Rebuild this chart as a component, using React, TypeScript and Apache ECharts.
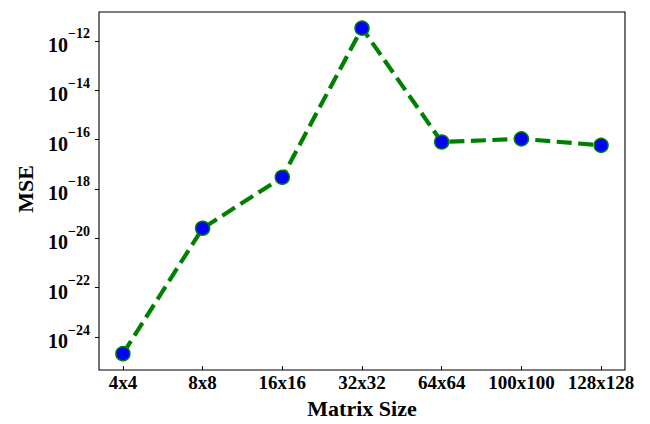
import React, { useEffect, useRef } from "react";
import * as echarts from "echarts";

const categories = ["4x4", "8x8", "16x16", "32x32", "64x64", "100x100", "128x128"];
const mseValues = [3.1e-25, 3.2e-20, 3.5e-18, 3.2e-12, 9.0e-17, 1.2e-16, 6.6e-17];
const yTickExponents = { min: -24, max: -12, step: 2 };
const yExtentExponents = { min: -25.16, max: -10.85 };
const xExtent = { min: -0.3, max: 6.3 };

const W = 650;
const H = 424;
const FRAME = { left: 99, top: 12, right: 625, bottom: 370 };
const FONT = "'Liberation Serif', 'Times New Roman', serif";

export default function App() {
  const ref = useRef<HTMLDivElement>(null);
  useEffect(() => {
    if (!ref.current) return;
    const chart = echarts.init(ref.current, null, { renderer: "svg" });

    const fw = FRAME.right - FRAME.left;
    const fh = FRAME.bottom - FRAME.top;
    const xOf = (v: number) => FRAME.left + ((v - xExtent.min) / (xExtent.max - xExtent.min)) * fw;
    const yOf = (e: number) =>
      FRAME.top + ((yExtentExponents.max - e) / (yExtentExponents.max - yExtentExponents.min)) * fh;

    const g2Left = xOf(0);
    const g2Right = xOf(categories.length - 1);
    const g2Top = yOf(yTickExponents.max);
    const g2Bottom = yOf(yTickExponents.min);

    const option: any = {
      animation: false,
      backgroundColor: "#fff",
      grid: [
        {
          left: FRAME.left,
          top: FRAME.top,
          width: fw,
          height: fh,
          show: true,
          borderColor: "#000",
          borderWidth: 1.1,
          backgroundColor: "transparent",
          containLabel: false,
        },
        {
          left: g2Left,
          top: g2Top,
          width: g2Right - g2Left,
          height: g2Bottom - g2Top,
          show: false,
          containLabel: false,
        },
      ],
      xAxis: [
        {
          gridIndex: 0,
          type: "value",
          min: xExtent.min,
          max: xExtent.max,
          axisLine: { show: false },
          axisTick: { show: false },
          axisLabel: { show: false },
          splitLine: { show: false },
        },
        {
          gridIndex: 1,
          type: "category",
          data: categories,
          boundaryGap: false,
          offset: FRAME.bottom - g2Bottom,
          axisLine: { show: false, onZero: false },
          axisTick: { show: true, length: 4, lineStyle: { color: "#000", width: 1 } },
          axisLabel: {
            color: "#000",
            fontFamily: FONT,
            fontWeight: "bold",
            fontSize: 19,
            margin: 7,
            interval: 0,
          },
          splitLine: { show: false },
          name: "Matrix Size",
          nameLocation: "middle",
          nameGap: 29,
          nameTextStyle: { color: "#000", fontFamily: FONT, fontWeight: "bold", fontSize: 22 },
        },
      ],
      yAxis: [
        {
          gridIndex: 0,
          type: "log",
          logBase: 10,
          min: Math.pow(10, yExtentExponents.min),
          max: Math.pow(10, yExtentExponents.max),
          axisLine: { show: false },
          axisTick: { show: false },
          axisLabel: { show: false },
          splitLine: { show: false },
        },
        {
          gridIndex: 1,
          type: "value",
          min: yTickExponents.min,
          max: yTickExponents.max,
          interval: yTickExponents.step,
          offset: g2Left - FRAME.left,
          axisLine: { show: false, onZero: false },
          axisTick: { show: true, length: 4, lineStyle: { color: "#000", width: 1 } },
          splitLine: { show: false },
          axisLabel: {
            margin: 9,
            formatter: (v: number) => `{b|10}{s|\u2212${Math.abs(v)}}`,
            rich: {
              b: {
                fontFamily: FONT,
                fontWeight: "bold",
                fontSize: 20,
                color: "#000",
                lineHeight: 28,
                verticalAlign: "bottom",
              },
              s: {
                fontFamily: FONT,
                fontWeight: "bold",
                fontSize: 14,
                color: "#000",
                lineHeight: 10,
                verticalAlign: "top",
              },
            },
          },
          name: "MSE",
          nameLocation: "middle",
          nameGap: 63,
          nameRotate: 90,
          nameTextStyle: { color: "#000", fontFamily: FONT, fontWeight: "bold", fontSize: 22 },
        },
      ],
      series: [
        {
          type: "line",
          xAxisIndex: 0,
          yAxisIndex: 0,
          data: categories.map((_, i) => [i, mseValues[i]]),
          symbol: "circle",
          symbolSize: 14,
          lineStyle: { color: "#008000", width: 4.2, type: [15, 6.5] },
          itemStyle: { color: "#0000ff", borderColor: "#008000", borderWidth: 1.5 },
          clip: false,
        },
      ],
    };
    chart.setOption(option);
    return () => chart.dispose();
  }, []);
  return (
    <div
      ref={ref}
      style={{ position: "fixed", left: 0, top: 0, width: W, height: H, background: "#fff" }}
    />
  );
}
